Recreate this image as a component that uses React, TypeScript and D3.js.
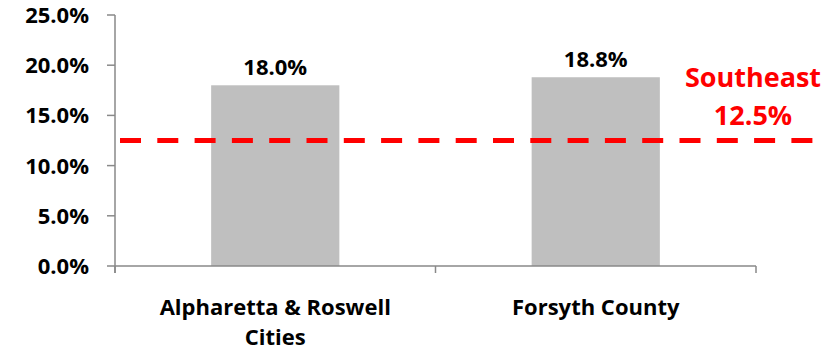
import { useEffect, useRef } from 'react';
import * as d3 from 'd3';

const categories = ['Alpharetta & Roswell Cities', 'Forsyth County'];
const categoryLines = [['Alpharetta & Roswell', 'Cities'], ['Forsyth County']];
const values = [0.18, 0.188];
const benchmarkLabel = 'Southeast';
const benchmarkValue = 0.125;
const yTicks = [0, 0.05, 0.1, 0.15, 0.2, 0.25];

export default function App() {
  const svgRef = useRef<SVGSVGElement>(null);

  useEffect(() => {
    if (!svgRef.current) return;
    const width = 839;
    const height = 352;
    const font = '"Open Sans", sans-serif';
    const axisColor = '#898989';

    const svg = d3.select(svgRef.current);
    svg.selectAll('*').remove();
    svg.attr('width', width).attr('height', height);

    const x = d3.scaleBand<string>()
      .domain(categories)
      .range([115, 756])
      .paddingInner(0.6)
      .paddingOuter(0.3);

    const y = d3.scaleLinear().domain([0, 0.25]).range([266, 15]);
    const fmt = d3.format('.1%');

    // Bars
    svg.append('g')
      .selectAll('rect')
      .data(values)
      .join('rect')
      .attr('x', (_, i) => x(categories[i])!)
      .attr('y', d => y(d))
      .attr('width', x.bandwidth())
      .attr('height', d => y(0) - y(d))
      .attr('fill', '#bfbfbf');

    // Value labels
    svg.append('g')
      .selectAll('text')
      .data(values)
      .join('text')
      .attr('x', (_, i) => x(categories[i])! + x.bandwidth() / 2)
      .attr('y', d => y(d) - 10)
      .attr('text-anchor', 'middle')
      .style('font-family', font)
      .style('font-weight', 'bold')
      .style('font-size', '22px')
      .style('fill', '#000')
      .text(d => fmt(d));

    // Y axis
    const yAxis = svg.append('g');
    yAxis.append('line')
      .attr('x1', 115).attr('x2', 115)
      .attr('y1', y(0.25)).attr('y2', y(0) + 7)
      .attr('stroke', axisColor).attr('stroke-width', 1.5);
    yAxis.selectAll('line.tick')
      .data(yTicks)
      .join('line')
      .attr('class', 'tick')
      .attr('x1', 107).attr('x2', 115)
      .attr('y1', d => y(d)).attr('y2', d => y(d))
      .attr('stroke', axisColor).attr('stroke-width', 1.5);
    yAxis.selectAll('text')
      .data(yTicks)
      .join('text')
      .attr('x', 89)
      .attr('y', d => y(d))
      .attr('dy', '0.36em')
      .attr('text-anchor', 'end')
      .style('font-family', font)
      .style('font-weight', 'bold')
      .style('font-size', '22px')
      .text(d => fmt(d));

    // X axis, ticks sit between categories
    const xAxis = svg.append('g');
    xAxis.append('line')
      .attr('x1', x.range()[0]).attr('x2', x.range()[1])
      .attr('y1', y(0)).attr('y2', y(0))
      .attr('stroke', axisColor).attr('stroke-width', 1.5);
    const edges = [
      x.range()[0],
      (x(categories[0])! + x.bandwidth() + x(categories[1])!) / 2,
      x.range()[1],
    ];
    xAxis.selectAll('line.tick')
      .data(edges)
      .join('line')
      .attr('class', 'tick')
      .attr('x1', d => d).attr('x2', d => d)
      .attr('y1', y(0)).attr('y2', y(0) + 7)
      .attr('stroke', axisColor).attr('stroke-width', 1.5);

    const labels = xAxis.selectAll('text')
      .data(categoryLines)
      .join('text')
      .attr('text-anchor', 'middle')
      .style('font-family', font)
      .style('font-weight', 'bold')
      .style('font-size', '22px');
    labels.each(function (lines, i) {
      const cx = x(categories[i])! + x.bandwidth() / 2;
      d3.select(this).selectAll('tspan')
        .data(lines)
        .join('tspan')
        .attr('x', cx)
        .attr('y', (_, j) => 315 + j * 30)
        .text(l => l);
    });

    // Benchmark line
    svg.append('line')
      .attr('x1', 120).attr('x2', 815)
      .attr('y1', y(benchmarkValue)).attr('y2', y(benchmarkValue))
      .attr('stroke', '#ff0000')
      .attr('stroke-width', 5)
      .attr('stroke-dasharray', '21 16.3');

    const bm = svg.append('text')
      .attr('text-anchor', 'middle')
      .style('font-family', font)
      .style('font-weight', 'bold')
      .style('font-size', '27px')
      .style('fill', '#ff0000');
    bm.append('tspan').attr('x', 753).attr('y', 87).text(benchmarkLabel);
    bm.append('tspan').attr('x', 753).attr('y', 125).text(fmt(benchmarkValue));
  }, []);

  return (
    <svg
      ref={svgRef}
      style={{ position: 'absolute', left: 0, top: 0, background: '#fff' }}
    />
  );
}
